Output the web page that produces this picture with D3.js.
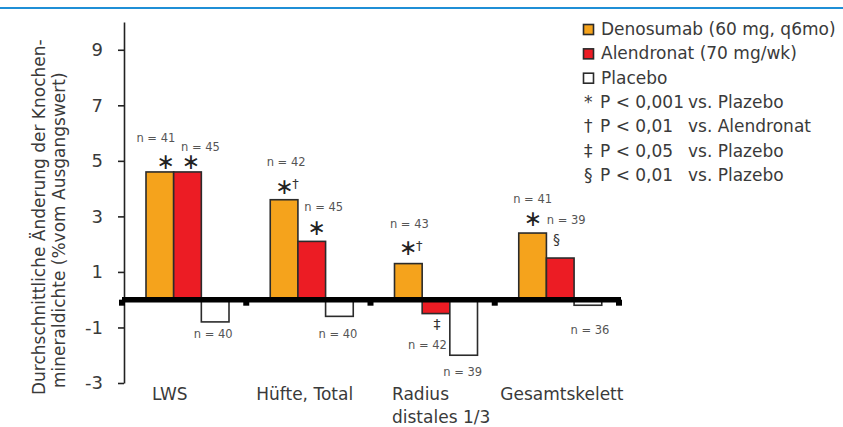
<!DOCTYPE html>
<html><head><meta charset="utf-8">
<script src="https://cdn.jsdelivr.net/npm/d3@7"></script>
<style>
body{margin:0;background:#fff;}
svg{display:block;font-family:"DejaVu Sans",sans-serif;}
</style>
</head><body>
<svg id="chart" width="843" height="427"></svg>
<script>
// ---------- data ----------
const categories = ["LWS", "Hüfte, Total", "Radius distales 1/3", "Gesamtskelett"];
const categoryLines = [["LWS"], ["Hüfte, Total"], ["Radius", "distales 1/3"], ["Gesamtskelett"]];
const seriesNames = ["Denosumab (60 mg, q6mo)", "Alendronat (70 mg/wk)", "Placebo"];
const denosumab = [4.6, 3.6, 1.3, 2.4];
const alendronat = [4.6, 2.1, -0.5, 1.5];
const placebo = [-0.8, -0.6, -2.0, -0.2];
const nDenosumab = [41, 42, 43, 41];
const nAlendronat = [45, 45, 42, 39];
const nPlacebo = [40, 40, 39, 36];
const sigDenosumab = ["*", "*†", "*†", "*"];
const sigAlendronat = ["*", "*", "‡", "§"];
const sigPlacebo = ["", "", "", ""];
const yTicks = [9, 7, 5, 3, 1, -1, -3];
const noteSymbols = ["*", "†", "‡", "§"];
const notePValues = ["P < 0,001", "P < 0,01", "P < 0,05", "P < 0,01"];
const noteComparisons = ["vs. Plazebo", "vs. Alendronat", "vs. Plazebo", "vs. Plazebo"];
const yTitleLines = ["Durchschnittliche Änderung der Knochen-", "mineraldichte (%vom Ausgangswert)"];

const seriesValues = [denosumab, alendronat, placebo];
const seriesN = [nDenosumab, nAlendronat, nPlacebo];
const seriesSig = [sigDenosumab, sigAlendronat, sigPlacebo];

// ---------- layout / style ----------
const colors = ["#f5a31c", "#ec1c24", "#ffffff"];
const textCol = "#3a3a3a";
// annotation offsets (relative to bar centre / bar end)
const nOffsets = [
  [[-4, -34], [2, -38], [1, -40], [0, -34]],
  [[13, -25], [12, -35], [-8.5, 31], [6, -38]],
  [[-2, 12], [-1.5, 17.5], [-1, 17], [2, 24.5]]
];
const sigOffsets = [
  [[6, -10], [0.5, -13], [0, -15.5], [0.5, -14]],
  [[3.5, -10], [5, -13.5], [1, 10.5], [-3.75, -19]],
  [[0, 0], [0, 0], [0, 0], [0, 0]]
];
const labelDx = [30, 10, 21.5, 5.5];

const svg = d3.select("#chart");

// top rule
svg.append("line").attr("x1", 0).attr("x2", 843).attr("y1", 8).attr("y2", 8)
  .attr("stroke", "#1f8fd6").attr("stroke-width", 2);

const y = d3.scaleLinear().domain([-3, 10]).range([383, 22]);
const x0 = d3.scaleBand().domain(categories).range([122, 619]);
const x1 = d3.scaleBand().domain(seriesNames).range([24, 24 + 83]);

// bars
const barData = [];
seriesValues.forEach((vals, s) => vals.forEach((v, i) => barData.push({s, i, v})));
svg.append("g").selectAll("rect").data(barData).join("rect")
  .attr("x", d => x0(categories[d.i]) + x1(seriesNames[d.s]))
  .attr("width", x1.bandwidth())
  .attr("y", d => y(Math.max(0, d.v)))
  .attr("height", d => Math.abs(y(d.v) - y(0)))
  .attr("fill", d => colors[d.s])
  .attr("stroke", "#2b2b2b").attr("stroke-width", 1.6);

// y axis
const yAxis = svg.append("g").attr("transform", "translate(124,0)")
  .call(d3.axisLeft(y).tickValues(yTicks).tickSize(6).tickSizeOuter(0).tickPadding(15)
    .tickFormat(d => String(d)));
yAxis.select(".domain").attr("stroke", "#222").attr("stroke-width", 1.6);
yAxis.selectAll(".tick line").attr("stroke", "#222").attr("stroke-width", 1.6);
yAxis.selectAll(".tick text").attr("font-family", "DejaVu Sans").attr("font-size", 18).attr("fill", textCol);

// zero baseline with group separators
svg.append("line").attr("x1", 122).attr("x2", 621).attr("y1", y(0)).attr("y2", y(0))
  .attr("stroke", "#000").attr("stroke-width", 5.5);
const bounds = categories.map(c => x0(c)).concat([x0.range()[1]]);
svg.append("g").selectAll("rect").data(bounds).join("rect")
  .attr("x", d => d - 3).attr("y", y(0)).attr("width", 6).attr("height", 6).attr("fill", "#000");

// annotations
barData.forEach(d => {
  const cx = x0(categories[d.i]) + x1(seriesNames[d.s]) + x1.bandwidth() / 2;
  const ye = y(d.v);
  const [ndx, ndy] = nOffsets[d.s][d.i];
  svg.append("text").attr("x", cx + ndx).attr("y", ye + ndy).attr("dy", "0.36em")
    .attr("text-anchor", "middle").attr("font-size", 11.5).attr("fill", "#555")
    .text("n = " + seriesN[d.s][d.i]);
  const sig = seriesSig[d.s][d.i];
  if (!sig) return;
  const [sdx, sdy] = sigOffsets[d.s][d.i];
  const sx = cx + sdx, sy = ye + sdy;
  if (sig[0] === "*") {
    svg.append("text").attr("x", sx).attr("y", sy).attr("dy", "0.33em")
      .attr("text-anchor", "middle").attr("font-size", 22).attr("fill", "#222").text("∗");
    if (sig.length > 1) {
      svg.append("text").attr("x", sx + 11).attr("y", sy - 3).attr("dy", "0.36em")
        .attr("text-anchor", "middle").attr("font-size", 13).attr("fill", "#333").text(sig.slice(1));
    }
  } else {
    svg.append("text").attr("x", sx).attr("y", sy).attr("dy", "0.36em")
      .attr("text-anchor", "middle").attr("font-size", 14).attr("fill", "#333").text(sig);
  }
});

// category labels
categoryLines.forEach((lines, i) => {
  const t = svg.append("text").attr("font-size", 17).attr("fill", textCol);
  lines.forEach((ln, k) => {
    t.append("tspan").attr("x", x0(categories[i]) + labelDx[i]).attr("y", 400 + k * 23).text(ln);
  });
});

// y axis title
yTitleLines.forEach((ln, k) => {
  svg.append("text")
    .attr("transform", `translate(${45 + k * 20},${395 - k * 7}) rotate(-90)`)
    .attr("font-size", 17).attr("fill", textCol).text(ln);
});

// legend
const legRowY = k => 35 + k * 24.35;
seriesNames.forEach((name, k) => {
  svg.append("rect").attr("x", 583.5).attr("y", legRowY(k) - 10.5).attr("width", 10).attr("height", 10)
    .attr("fill", colors[k]).attr("stroke", "#2b2b2b").attr("stroke-width", 1.6);
  svg.append("text").attr("x", 601).attr("y", legRowY(k)).attr("font-size", 17).attr("fill", textCol).text(name);
});
noteSymbols.forEach((sym, j) => {
  const yy = legRowY(j + 3);
  svg.append("text").attr("x", 584).attr("y", yy).attr("font-size", 17).attr("fill", textCol).text(sym);
  svg.append("text").attr("x", 600).attr("y", yy).attr("font-size", 17).attr("fill", textCol).text(notePValues[j]);
  svg.append("text").attr("x", 688).attr("y", yy).attr("font-size", 17).attr("fill", textCol).text(noteComparisons[j]);
});
</script>
</body></html>
